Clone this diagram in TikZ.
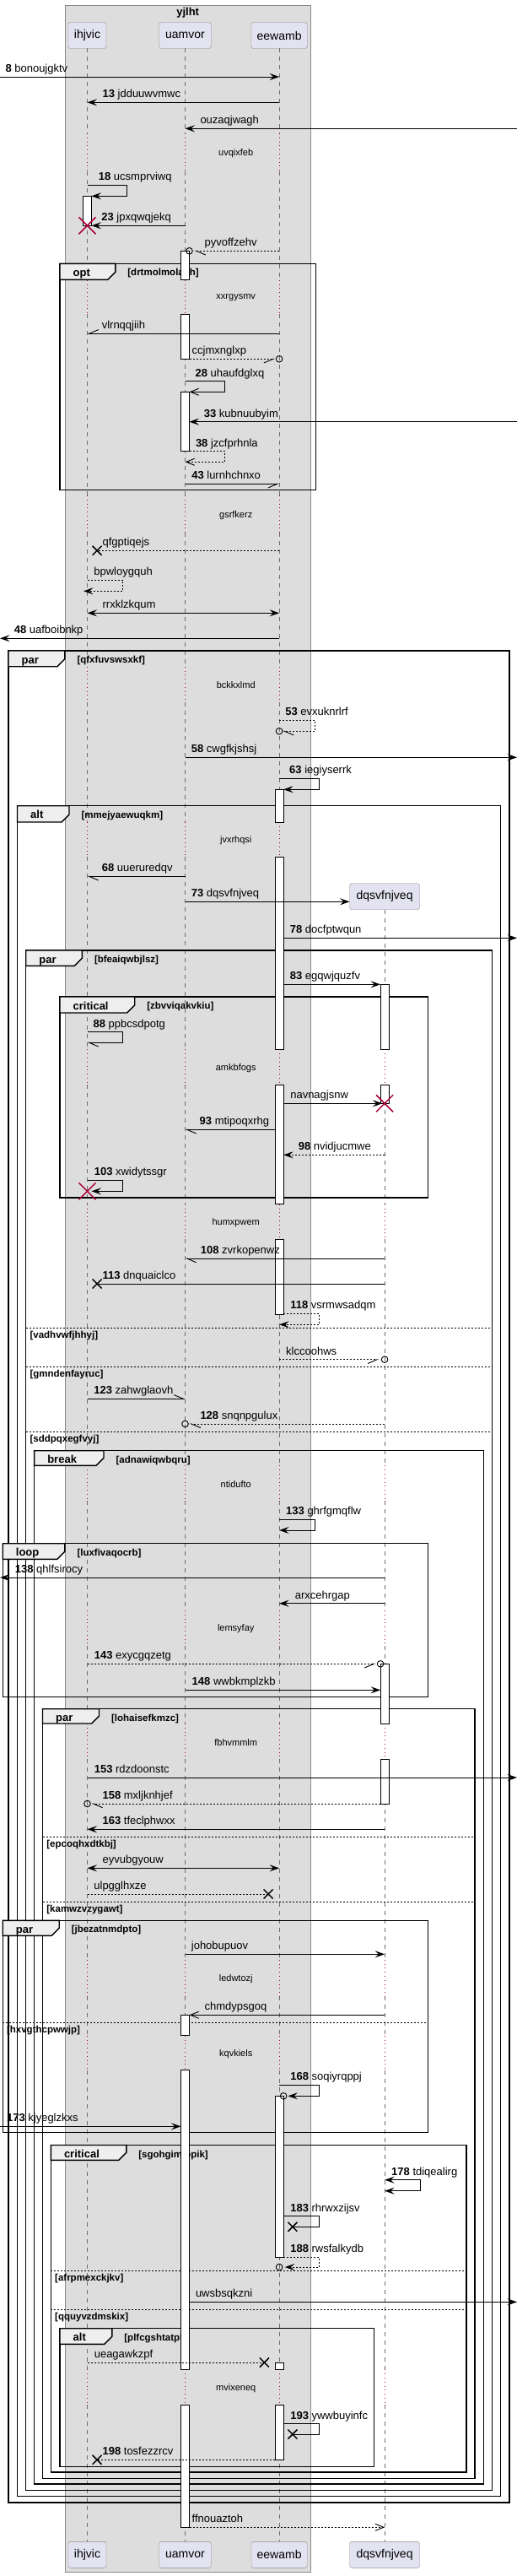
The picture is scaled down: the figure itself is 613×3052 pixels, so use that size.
\documentclass[tikz,border=0pt]{standalone}
\usepackage{fontspec}
\setmainfont{Liberation Sans}
\usetikzlibrary{arrows.meta}
\definecolor{boxbg}{HTML}{DDDDDD}
\definecolor{boxline}{HTML}{8A8A8A}
\definecolor{ptfill}{HTML}{E2E2F0}
\definecolor{ptline}{HTML}{8A8A8A}
\definecolor{tabfill}{HTML}{EEEEEE}
\definecolor{lifegray}{HTML}{6E6E6E}
\definecolor{delayred}{HTML}{A80036}

\begin{document}
\begin{tikzpicture}[x=1pt, y=-1pt,
    boxframe/.style={draw=boxline, fill=boxbg, line width=0.8pt},
    boxtitle/.style={inner sep=0pt, font=\bfseries\fontsize{13}{15}\selectfont},
    ptbox/.style={draw=ptline, fill=ptfill, rounded corners=2.5pt, minimum height=31pt, inner sep=0pt, font=\fontsize{14}{16}\selectfont},
    life/.style={draw=lifegray, line width=0.7pt, dash pattern=on 5pt off 5pt},
    delayline/.style={draw=delayred, line width=0.8pt, dash pattern=on 0.8pt off 4pt},
    act/.style={draw=black, fill=white, line width=0.9pt},
    frm/.style={draw=black, line width=1.4pt},
    tabst/.style={draw=black, fill=tabfill, line width=1.4pt},
    divline/.style={draw=black, line width=0.8pt, dash pattern=on 2pt off 2pt},
    msg/.style={draw=black, line width=0.9pt},
    dsh/.style={dash pattern=on 2pt off 2pt},
    fa/.style={-{Stealth[length=11.5pt,width=8pt,inset=4.5pt]}},
    fa2/.style={{Stealth[length=11.5pt,width=8pt,inset=4.5pt]}-{Stealth[length=11.5pt,width=8pt,inset=4.5pt]}},
    oa/.style={-{Straight Barb[length=10pt,width=8pt]}},
    hl/.style={-{Straight Barb[left,length=11pt,width=9.4pt]}},
    hr/.style={-{Straight Barb[right,length=11pt,width=9.4pt]}},
    lbl/.style={anchor=base west, inner sep=0pt, font=\fontsize{13}{15}\selectfont},
    dtxt/.style={inner sep=0pt, font=\fontsize{11}{13}\selectfont},
    tabtxt/.style={anchor=base west, inner sep=0pt, font=\bfseries\fontsize{13}{15}\selectfont},
    guard/.style={anchor=base west, inner sep=0pt, font=\bfseries\fontsize{11.5}{13}\selectfont},
    kill/.style={draw=delayred, line width=1.5pt},
    lost/.style={draw=black, line width=1.5pt},
    ocirc/.style={draw=black, line width=0.9pt}
  ]
  \useasboundingbox (0,0) rectangle (613,3052);

  % box
  \draw[boxframe] (76.9,6) rectangle (368.6,3047.3);
  \node[boxtitle] (yjlht) at (222.7,15) {yjlht};

  % participants
  \node[ptbox, minimum width=45pt] (ihjvic) at (103.5,42) {ihjvic};
  \node[ptbox, minimum width=61.5pt] (uamvor) at (219.5,42) {uamvor};
  \node[ptbox, minimum width=66.2pt] (eewamb) at (331.1,42) {eewamb};
  \node[ptbox, minimum width=82.8pt] (dqsvfnjveq) at (456.1,1062.2) {dqsvfnjveq};
  \node[ptbox, minimum width=45pt] (ihjvicEnd) at (103.5,3026.8) {ihjvic};
  \node[ptbox, minimum width=61.5pt] (uamvorEnd) at (219.5,3026.8) {uamvor};
  \node[ptbox, minimum width=66.2pt] (eewambEnd) at (331.1,3026.8) {eewamb};
  \node[ptbox, minimum width=82.8pt] (dqsvfnjveqEnd) at (456.1,3026.8) {dqsvfnjveq};

  \coordinate (lft) at (0,0);
  \coordinate (rgt) at (613,0);
  \coordinate (iR) at (108.5,0);
  \coordinate (uL) at (214.5,0);
  \coordinate (uR) at (224.5,0);
  \coordinate (eL) at (326.1,0);
  \coordinate (eR) at (336.1,0);
  \coordinate (dL) at (451.1,0);

  % lifelines
  \foreach \a/\b in {57.3/158,203/331.7,372.3/587,631.3/789.7,832/974,1015.3/1243.3,1285/1426.7,1468.3/1736.3,1778.3/1908,1949.7/2042,2084.3/2321.7,2365/2411.7,2452.7/2807.3,2849/3011.3}
    \foreach \p in {ihjvic,uamvor,eewamb}
      \draw[life] (\p |- 0,\a) -- (\p |- 0,\b);
  \foreach \a/\b in {1077.7/1243.3,1285/1426.7,1468.3/1736.3,1778.3/1908,1949.7/2042,2084.3/2321.7,2365/2411.7,2452.7/2807.3,2849/3011.3}
    \draw[life] (dqsvfnjveq |- 0,\a) -- (dqsvfnjveq |- 0,\b);

  % delays
  \foreach \a/\b/\dt in {158/203/uvqixfeb,331.7/372.3/xxrgysmv,587/631.3/gsrfkerz,789.7/832/bckkxlmd,974/1015.3/jvxrhqsi,1243.3/1285/amkbfogs,1426.7/1468.3/humxpwem,1736.3/1778.3/ntidufto,1908/1949.7/lemsyfay,2042/2084.3/fbhvmmlm,2321.7/2365/ledwtozj,2411.7/2452.7/kqvkiels,2807.3/2849/mvixeneq} {
    \foreach \p in {ihjvic,uamvor,eewamb}
      \draw[delayline] (\p |- 0,\a) -- (\p |- 0,\b);
    \node[dtxt] (\dt) at (279.7,{(\a+\b)/2+1}) {\dt};
  }
  \foreach \a/\b in {1243.3/1285,1426.7/1468.3,1736.3/1778.3,1908/1949.7,2042/2084.3,2321.7/2365,2411.7/2452.7,2807.3/2849}
    \draw[delayline] (dqsvfnjveq |- 0,\a) -- (dqsvfnjveq |- 0,\b);

  % frames
  \foreach \fl/\ft/\fr/\fb/\fx/\fy/\fk/\fg [count=\n] in {
      71/312.3/374.5/580.7/136.8/331.3/opt/drtmolmolauh,
      9.9/771/603.9/2965/76.9/789.7/par/qfxfuvswsxkf,
      20.5/954.7/593.7/2957.3/82/974/alt/mmejyaewuqkm,
      30.7/1126/583.4/2950.3/97.4/1144.3/par/bfeaiqwbjlsz,
      71/1181/507.4/1419/159.7/1200/critical/zbvviqakvkiu,
      40.6/1718.7/573.6/2943/123/1736.3/break/adnawiqwbqru,
      3.2/1828.7/507.7/2010.3/76.9/1847.3/loop/luxfivaqocrb,
      50.5/2024.7/562.9/2936.7/117.5/2042/par/lohaisefkmzc,
      3.2/2275.3/507.7/2526.7/70.2/2293.3/par/jbezatnmdpto,
      60.3/2541.5/553.1/2929/149.8/2559.3/critical/sgohgimjopik,
      71/2758.7/443.5/2922.3/132.8/2777.3/alt/plfcgshtatpl} {
    \draw[frm] (\fl,\ft) rectangle (\fr,\fb);
    \draw[tabst] (\fl,\ft) -- (\fx,\ft) -- (\fx,{\fy-9}) -- ({\fx-9},\fy) -- (\fl,\fy) -- cycle;
    \node[tabtxt] (frame\n) at ({\fl+15.5},{\ft+15}) {\fk};
    \node[guard] (guard\n) at ({\fx+14.4},{\ft+14.5}) {[\fg]};
  }
  \foreach \dl/\dr/\dy/\dg [count=\n] in {30.7/583.4/1573.3/vadhvwfjhhyj,30.7/583.4/1619.3/gmndenfayruc,30.7/583.4/1696.3/sddpqxegfvyj,50.5/562.9/2176.3/epcoqhxdtkbj,50.5/562.9/2253/kamwzvzygawt,3.2/507.7/2396/hxvgthcpwwjp,60.3/553.1/2690.3/afrpmexckjkv,60.3/553.1/2736.3/qquyvzdmskix} {
    \draw[divline] (\dl,\dy) -- (\dr,\dy);
    \node[guard] (else\n) at ({\dl+4.7},{\dy+12}) {[\dg]};
  }

  % activations
  \foreach \x/\a/\b in {98.5/232.3/267.3,
      214.5/297.3/331.7,214.5/372.3/425.3,214.5/464.3/534.7,214.5/2387.3/2411.7,214.5/2452.7/2807.3,214.5/2849/2994.3,
      326.1/935.3/974,326.1/1015.3/1243.3,326.1/1285/1426.7,326.1/1468.3/1557.3,326.1/2483.3/2674,326.1/2799.7/2807.3,326.1/2849/2914.3,
      451.1/1166.3/1243.3,451.1/1285/1307.3,451.1/1971.3/2042,451.1/2084.3/2137}
    \draw[act] (\x,\a) rectangle ({\x+10},\b);

  % messages
  \draw[msg,fa] (lft |- 0,91) -- (eewamb |- 0,91);
  \node[lbl] (m8) at (6.3,85.5) {\textbf{8} bonoujgktv};
  \draw[msg,fa] (eewamb |- 0,121.3) -- (ihjvic |- 0,121.3);
  \node[lbl] (m13) at (121.4,115.8) {\textbf{13} jdduuwvmwc};
  \draw[msg,fa] (rgt |- 0,152.3) -- (uamvor |- 0,152.3);
  \node[lbl] (ouzaqjwagh) at (237.3,146.8) {ouzaqjwagh};
  \draw[msg,fa] (ihjvic |- 0,219.3) -- (150.6,219.3) -- (150.6,232.3) -- (iR |- 0,232.3);
  \node[lbl] (m18) at (116.7,213.8) {\textbf{18} ucsmprviwq};
  \draw[msg,fa] (uamvor |- 0,267.3) -- (iR |- 0,267.3);
  \node[lbl] (m23) at (120.2,261.8) {\textbf{23} jpxqwqjekq};
  \draw[kill] (103.5,267.3) ++(-10,-10) -- ++(20,20) ++(-20,0) -- ++(20,-20);
  \draw[msg,dsh,hl] (eewamb |- 0,297.3) -- (230.6,297.3);
  \draw[ocirc] (uR |- 0,297.3) circle[radius=3.8pt];
  \node[lbl] (pyvoffzehv) at (242.4,291.8) {pyvoffzehv};
  \draw[msg,hr] (eewamb |- 0,395.3) -- (ihjvic |- 0,395.3);
  \node[lbl] (vlrnqqjiih) at (120.6,389.8) {vlrnqqjiih};
  \draw[msg,dsh,hr] (uR |- 0,425.3) -- (326,425.3);
  \draw[ocirc] (eewamb |- 0,425.3) circle[radius=3.8pt];
  \node[lbl] (ccjmxnglxp) at (227.5,419.8) {ccjmxnglxp};
  \draw[msg,oa] (uamvor |- 0,451.7) -- (266.5,451.7) -- (266.5,464.3) -- (uR |- 0,464.3);
  \node[lbl] (m28) at (231.4,446.2) {\textbf{28} uhaufdglxq};
  \draw[msg,fa] (rgt |- 0,499.7) -- (uR |- 0,499.7);
  \node[lbl] (m33) at (241.6,494.2) {\textbf{33} kubnuubyim};
  \draw[msg,dsh,oa] (uR |- 0,534.7) -- (266.5,534.7) -- (266.5,547.3) -- (uamvor |- 0,547.3);
  \node[lbl] (m38) at (231.8,529.2) {\textbf{38} jzcfprhnla};
  \draw[msg,hr] (uamvor |- 0,573.3) -- (eewamb |- 0,573.3);
  \node[lbl] (m43) at (227.1,567.8) {\textbf{43} lurnhchnxo};
  \draw[msg,dsh] (eewamb |- 0,652.3) -- (115.1,652.3);
  \draw[lost] (115.1,652.3) ++(-5.5,-5.5) -- ++(11,11) ++(-11,0) -- ++(11,-11);
  \node[lbl] (qfgptiqejs) at (121.4,646.8) {qfgptiqejs};
  \draw[msg,dsh,fa] (ihjvic |- 0,687.3) -- (145.9,687.3) -- (145.9,700.3) -- (99,700.3);
  \node[lbl] (bpwloygquh) at (111.2,681.8) {bpwloygquh};
  \draw[msg,fa2] (ihjvic |- 0,726.3) -- (eewamb |- 0,726.3);
  \node[lbl] (rrxklzkqum) at (121.4,720.8) {rrxklzkqum};
  \draw[msg,fa] (eewamb |- 0,756.3) -- (lft |- 0,756.3);
  \node[lbl] (m48) at (16.6,750.8) {\textbf{48} uafboibnkp};
  \draw[msg,dsh,hl] (eewamb |- 0,853) -- (373.3,853) -- (373.3,866.3) -- (335,866.3);
  \draw[ocirc] (eewamb |- 0,866.3) circle[radius=3.8pt];
  \node[lbl] (m53) at (338.2,847.5) {\textbf{53} evxuknrlrf};
  \draw[msg,fa] (uamvor |- 0,897.3) -- (rgt |- 0,897.3);
  \node[lbl] (m58) at (226.7,891.8) {\textbf{58} cwgfkjshsj};
  \draw[msg,fa] (eewamb |- 0,922.3) -- (378.4,922.3) -- (378.4,935.3) -- (eR |- 0,935.3);
  \node[lbl] (m63) at (343,916.8) {\textbf{63} iegiyserrk};
  \draw[msg,hl] (uamvor |- 0,1038.3) -- (ihjvic |- 0,1038.3);
  \node[lbl] (m68) at (120.6,1032.8) {\textbf{68} uueruredqv};
  \draw[msg,fa] (uamvor |- 0,1068.3) -- (dqsvfnjveq.west |- 0,1068.3);
  \node[lbl] (m73) at (226.7,1062.8) {\textbf{73} dqsvfnjveq};
  \draw[msg,fa] (eR |- 0,1111.3) -- (rgt |- 0,1111.3);
  \node[lbl] (m78) at (343.7,1105.8) {\textbf{78} docfptwqun};
  \draw[msg,fa] (eR |- 0,1166.3) -- (dL |- 0,1166.3);
  \node[lbl] (m83) at (343.7,1160.8) {\textbf{83} egqwjquzfv};
  \draw[msg,hl] (ihjvic |- 0,1222.7) -- (145.5,1222.7) -- (145.5,1235.3) -- (ihjvic |- 0,1235.3);
  \node[lbl] (m88) at (110.4,1217.2) {\textbf{88} ppbcsdpotg};
  \draw[msg,fa] (eR |- 0,1307.3) -- (453.3,1307.3);
  \draw[kill] (456.1,1307.3) ++(-10,-10) -- ++(20,20) ++(-20,0) -- ++(20,-20);
  \node[lbl] (navnagjsnw) at (344.1,1301.8) {navnagjsnw};
  \draw[msg,hl] (eL |- 0,1338.3) -- (uamvor |- 0,1338.3);
  \node[lbl] (m93) at (236.5,1332.8) {\textbf{93} mtipoqxrhg};
  \draw[msg,dsh,fa] (dqsvfnjveq |- 0,1368.3) -- (eR |- 0,1368.3);
  \node[lbl] (m98) at (353.6,1362.8) {\textbf{98} nvidjucmwe};
  \draw[msg,fa] (ihjvic |- 0,1398.3) -- (145.5,1398.3) -- (145.5,1411.3) -- (iR |- 0,1411.3);
  \draw[kill] (103.5,1411.3) ++(-10,-10) -- ++(20,20) ++(-20,0) -- ++(20,-20);
  \node[lbl] (m103) at (111.6,1392.8) {\textbf{103} xwidytssgr};
  \draw[msg,hl] (dqsvfnjveq |- 0,1491) -- (uamvor |- 0,1491);
  \node[lbl] (m108) at (237.7,1485.5) {\textbf{108} zvrkopenwz};
  \draw[msg] (dqsvfnjveq |- 0,1521) -- (115.1,1521);
  \draw[lost] (115.1,1521) ++(-5.5,-5.5) -- ++(11,11) ++(-11,0) -- ++(11,-11);
  \node[lbl] (m113) at (121.4,1515.5) {\textbf{113} dnquaiclco};
  \draw[msg,dsh,fa] (eR |- 0,1556.3) -- (378.4,1556.3) -- (378.4,1569.3) -- (eewamb |- 0,1569.3);
  \node[lbl] (m118) at (344.1,1550.8) {\textbf{118} vsrmwsadqm};
  \draw[msg,dsh,hr] (eewamb |- 0,1610.7) -- (449.4,1610.7);
  \draw[ocirc] (dqsvfnjveq |- 0,1610.7) circle[radius=3.8pt];
  \node[lbl] (klccoohws) at (339,1605.2) {klccoohws};
  \draw[msg,hl] (ihjvic |- 0,1657.3) -- (uamvor |- 0,1657.3);
  \node[lbl] (m123) at (111.2,1651.8) {\textbf{123} zahwglaovh};
  \draw[msg,dsh,hl] (dqsvfnjveq |- 0,1687) -- (224.7,1687);
  \draw[ocirc] (uamvor |- 0,1687) circle[radius=3.8pt];
  \node[lbl] (m128) at (237.3,1681.5) {\textbf{128} snqnpgulux};
  \draw[msg,fa] (eewamb |- 0,1800.3) -- (373.3,1800.3) -- (373.3,1813) -- (eewamb |- 0,1813);
  \node[lbl] (m133) at (339,1794.8) {\textbf{133} ghrfgmqflw};
  \draw[msg,fa] (dqsvfnjveq |- 0,1869) -- (lft |- 0,1869);
  \node[lbl] (m138) at (17.7,1863.5) {\textbf{138} qhlfsirocy};
  \draw[msg,fa] (dqsvfnjveq |- 0,1899.7) -- (eewamb |- 0,1899.7);
  \node[lbl] (arxcehrgap) at (349.7,1894.2) {arxcehrgap};
  \draw[msg,dsh,hr] (ihjvic |- 0,1971.3) -- (445.5,1971.3);
  \draw[ocirc] (dL |- 0,1971.3) circle[radius=3.8pt];
  \node[lbl] (m143) at (111.6,1965.8) {\textbf{143} exycgqzetg};
  \draw[msg,fa] (uamvor |- 0,2002.3) -- (dL |- 0,2002.3);
  \node[lbl] (m148) at (227.5,1996.8) {\textbf{148} wwbkmplzkb};
  \draw[msg,fa] (ihjvic |- 0,2106) -- (rgt |- 0,2106);
  \node[lbl] (m153) at (111.6,2100.5) {\textbf{153} rdzdoonstc};
  \draw[msg,dsh,hl] (dL |- 0,2137) -- (108.4,2137);
  \draw[ocirc] (ihjvic |- 0,2137) circle[radius=3.8pt];
  \node[lbl] (m158) at (121.4,2131.5) {\textbf{158} mxljknhjef};
  \draw[msg,fa] (dqsvfnjveq |- 0,2167.3) -- (ihjvic |- 0,2167.3);
  \node[lbl] (m163) at (121.4,2161.8) {\textbf{163} tfeclphwxx};
  \draw[msg,fa2] (ihjvic |- 0,2213.3) -- (eewamb |- 0,2213.3);
  \node[lbl] (eyvubgyouw) at (121.4,2207.8) {eyvubgyouw};
  \draw[msg,dsh] (ihjvic |- 0,2244) -- (318.1,2244);
  \draw[lost] (318.1,2244) ++(-5.5,-5.5) -- ++(11,11) ++(-11,0) -- ++(11,-11);
  \node[lbl] (ulpgglhxze) at (111.2,2238.5) {ulpgglhxze};
  \draw[msg,fa] (uamvor |- 0,2315.3) -- (dqsvfnjveq |- 0,2315.3);
  \node[lbl] (johobupuov) at (226.7,2309.8) {johobupuov};
  \draw[msg,oa] (dqsvfnjveq |- 0,2387.3) -- (uR |- 0,2387.3);
  \node[lbl] (chmdypsgoq) at (242.4,2381.8) {chmdypsgoq};
  \draw[msg,fa] (eewamb |- 0,2470.3) -- (378.4,2470.3) -- (378.4,2483.3) -- (341.4,2483.3);
  \draw[ocirc] (eR |- 0,2483.3) circle[radius=3.8pt];
  \node[lbl] (m168) at (344.1,2464.8) {\textbf{168} soqiyrqppj};
  \draw[msg,fa] (lft |- 0,2519.3) -- (uL |- 0,2519.3);
  \node[lbl] (m173) at (7.9,2513.8) {\textbf{173} kjyeglzkxs};
  \draw[msg,fa2] (dqsvfnjveq |- 0,2582.7) -- (498.7,2582.7) -- (498.7,2595.7) -- (dqsvfnjveq |- 0,2595.7);
  \node[lbl] (m178) at (464,2577.2) {\textbf{178} tdiqealirg};
  \draw[msg] (eR |- 0,2625.7) -- (378.4,2625.7) -- (378.4,2638.3) -- (346.9,2638.3);
  \draw[lost] (346.9,2638.3) ++(-5.5,-5.5) -- ++(11,11) ++(-11,0) -- ++(11,-11);
  \node[lbl] (m183) at (344.1,2620.2) {\textbf{183} rhrwxzijsv};
  \draw[msg,dsh,fa] (eR |- 0,2674) -- (378.4,2674) -- (378.4,2686) -- (337.8,2686);
  \draw[ocirc] (eewamb |- 0,2686) circle[radius=3.8pt];
  \node[lbl] (m188) at (344.1,2668.5) {\textbf{188} rwsfalkydb};
  \draw[msg,fa] (uR |- 0,2727.3) -- (rgt |- 0,2727.3);
  \node[lbl] (uwsbsqkzni) at (231.8,2721.8) {uwsbsqkzni};
  \draw[msg,dsh] (ihjvic |- 0,2799) -- (313.4,2799);
  \draw[lost] (313.4,2799) ++(-5.5,-5.5) -- ++(11,11) ++(-11,0) -- ++(11,-11);
  \node[lbl] (ueagawkzpf) at (111.6,2793.5) {ueagawkzpf};
  \draw[msg] (eR |- 0,2871.7) -- (378.4,2871.7) -- (378.4,2884) -- (346.9,2884);
  \draw[lost] (346.9,2884) ++(-5.5,-5.5) -- ++(11,11) ++(-11,0) -- ++(11,-11);
  \node[lbl] (m193) at (344.1,2866.2) {\textbf{193} ywwbuyinfc};
  \draw[msg,dsh] (eL |- 0,2914.3) -- (115.1,2914.3);
  \draw[lost] (115.1,2914.3) ++(-5.5,-5.5) -- ++(11,11) ++(-11,0) -- ++(11,-11);
  \node[lbl] (m198) at (121.4,2908.8) {\textbf{198} tosfezzrcv};
  \draw[msg,dsh,oa] (uR |- 0,2994.3) -- (dqsvfnjveq |- 0,2994.3);
  \node[lbl] (ffnouaztoh) at (227.5,2988.8) {ffnouaztoh};
\end{tikzpicture}
\end{document}
